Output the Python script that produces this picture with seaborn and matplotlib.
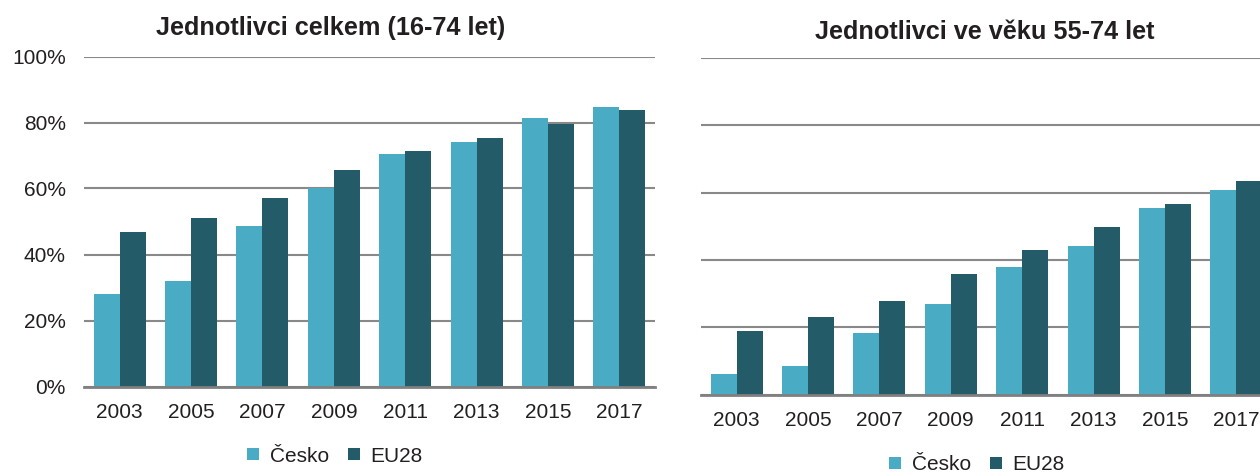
import matplotlib
matplotlib.use("Agg")
import matplotlib.pyplot as plt
from matplotlib.lines import Line2D
import seaborn as sns
import pandas as pd

sns.set_theme(style="white")
plt.rcParams['font.family'] = ['Liberation Sans', 'DejaVu Sans']

years = ["2003", "2005", "2007", "2009", "2011", "2013", "2015", "2017"]
series_names = ["Česko", "EU28"]

# Jednotlivci celkem (16-74 let)
total_cz = [28.0, 32.0, 48.6, 60.3, 70.6, 74.1, 81.3, 84.6]
total_eu = [46.8, 51.2, 57.0, 65.5, 71.5, 75.4, 79.5, 83.7]

# Jednotlivci ve věku 55-74 let
older_cz = [6.1, 8.4, 18.3, 26.9, 38.0, 44.0, 55.4, 60.7]
older_eu = [18.8, 23.0, 27.7, 35.8, 43.0, 49.7, 56.6, 63.5]

title_left = "Jednotlivci celkem (16-74 let)"
title_right = "Jednotlivci ve věku 55-74 let"
yticks = [0, 20, 40, 60, 80, 100]

colors = {"Česko": "#4AABC5", "EU28": "#235B68"}
text_color = "#231F20"
grid_color = "#898989"

W, H = 1260, 476
fig = plt.figure(figsize=(W / 100, H / 100), dpi=100)


def make_df(cz, eu):
    return pd.DataFrame({
        "year": years * 2,
        "value": list(cz) + list(eu),
        "series": [series_names[0]] * len(years) + [series_names[1]] * len(years),
    })


def style_axis(ax, show_labels):
    ax.set_ylim(0, 100)
    ax.set_xlim(-0.5, len(years) - 0.5)
    ax.set_yticks(yticks)
    if show_labels:
        ax.set_yticklabels([f"{v}%" for v in yticks])
    else:
        ax.set_yticklabels([])
    ax.yaxis.grid(True, color=grid_color, linewidth=1.5)
    ax.xaxis.grid(False)
    ax.set_axisbelow(True)
    for s in ["top", "right", "left"]:
        ax.spines[s].set_visible(False)
    ax.spines["bottom"].set_color("#808080")
    ax.spines["bottom"].set_linewidth(2.0)
    ax.spines["bottom"].set_zorder(3)
    ax.tick_params(axis="both", length=0, labelsize=15, colors=text_color)
    ax.tick_params(axis="y", pad=13)
    ax.tick_params(axis="x", pad=12)
    ax.set_xlabel("")
    ax.set_ylabel("")
    ax.set_facecolor("white")


def px_axes(left, right, top, bottom):
    return fig.add_axes([left / W, 1 - bottom / H, (right - left) / W, (bottom - top) / H])


ax1 = px_axes(84, 655, 56.5, 386.5)
sns.barplot(data=make_df(total_cz, total_eu), x="year", y="value", hue="series",
            hue_order=series_names, palette=colors, saturation=1, width=0.73, gap=0,
            linewidth=0, legend=False, ax=ax1)
style_axis(ax1, True)

ax2 = px_axes(701, 1272, 58, 394.5)
sns.barplot(data=make_df(older_cz, older_eu), x="year", y="value", hue="series",
            hue_order=series_names, palette=colors, saturation=1, width=0.73, gap=0,
            linewidth=0, legend=False, ax=ax2)
style_axis(ax2, False)

fig.text(331 / W, 1 - 28 / H, title_left, ha="center", va="center",
         fontsize=18.2, fontweight="bold", color=text_color)
fig.text(985 / W, 1 - 32 / H, title_right, ha="center", va="center",
         fontsize=18.2, fontweight="bold", color=text_color)

handles = [Line2D([0], [0], marker="s", linestyle="none", markersize=8,
                  markerfacecolor=colors[n], markeredgewidth=0) for n in series_names]
for cx, cy in [(335, 456), (977, 465)]:
    fig.legend(handles, series_names, loc="center", bbox_to_anchor=(cx / W, 1 - cy / H),
               ncol=2, frameon=False, fontsize=15, handlelength=0.6,
               handletextpad=0.5, columnspacing=0.9, labelcolor=text_color,
               borderaxespad=0, borderpad=0)

fig.savefig("out.png", dpi=100, facecolor="white")
